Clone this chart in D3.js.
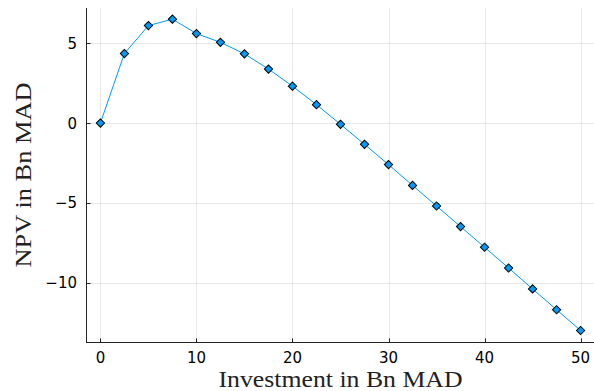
<!DOCTYPE html>
<html>
<head>
<meta charset="utf-8">
<script src="https://cdn.jsdelivr.net/npm/d3@7"></script>
<style>
  body { margin: 0; background: #fff; }
  svg { display: block; }
</style>
</head>
<body>
<svg id="chart" width="594" height="391"></svg>
<script>
// investment (Bn MAD) vs NPV (Bn MAD)
const investment = [0, 2.5, 5, 7.5, 10, 12.5, 15, 17.5, 20, 22.5, 25, 27.5, 30, 32.5, 35, 37.5, 40, 42.5, 45, 47.5, 50]
const npv = [0, 4.35, 6.1, 6.5, 5.6, 5.05, 4.33, 3.38, 2.31, 1.15, -0.08, -1.33, -2.6, -3.9, -5.19, -6.48, -7.77, -9.07, -10.38, -11.68, -12.98]
const xTicks = [0, 10, 20, 30, 40, 50]
const yTicks = [-10, -5, 0, 5]
const xLabel = "Investment in Bn MAD"
const yLabel = "NPV in Bn MAD"

const W = 594, H = 391
const plot = {left: 86, right: 595, top: 8, bottom: 342}
const blue = "#009af9"

let svg = d3.select("#chart")

let x = d3.scaleLinear()
    .domain([-1.5, 51.5])
    .range([plot.left, plot.right])
let y = d3.scaleLinear()
    .domain([-13.7, 7.2])
    .range([plot.bottom, plot.top])

let data = investment.map((d, i) => ({x: d, y: npv[i]}))

// grid
let grid = svg.append("g").attr("stroke", "#000").attr("stroke-opacity", 0.09).attr("stroke-width", 1)
grid.selectAll(".vg").data(xTicks).enter().append("line")
    .attr("x1", d => Math.round(x(d)) + 0.5).attr("x2", d => Math.round(x(d)) + 0.5)
    .attr("y1", plot.top).attr("y2", plot.bottom)
grid.selectAll(".hg").data(yTicks).enter().append("line")
    .attr("y1", d => Math.round(y(d)) + 0.5).attr("y2", d => Math.round(y(d)) + 0.5)
    .attr("x1", plot.left).attr("x2", plot.right)

// axes (ticks point inward like GR does)
let xAxis = d3.axisTop(x).tickValues(xTicks).tickSize(4).tickFormat("")
let yAxis = d3.axisRight(y).tickValues(yTicks).tickSize(4).tickFormat("")

let gx = svg.append("g")
    .attr("transform", "translate(0," + (plot.bottom + 0.5) + ")")
    .call(xAxis)
let gy = svg.append("g")
    .attr("transform", "translate(" + (plot.left + 0.5) + ",0)")
    .call(yAxis)
gx.select(".domain").remove()
gy.select(".domain").remove()
svg.selectAll(".tick line").attr("stroke", "#222").attr("stroke-width", 1)
gx.selectAll(".tick").attr("transform", d => "translate(" + (Math.round(x(d)) + 0.5) + ",0)")
gy.selectAll(".tick").attr("transform", d => "translate(0," + (Math.round(y(d)) + 0.5) + ")")

svg.append("line")
    .attr("x1", plot.left).attr("x2", plot.right)
    .attr("y1", plot.bottom + 0.5).attr("y2", plot.bottom + 0.5)
    .attr("stroke", "#222")
svg.append("line")
    .attr("x1", plot.left + 0.5).attr("x2", plot.left + 0.5)
    .attr("y1", plot.top).attr("y2", plot.bottom + 0.5)
    .attr("stroke", "#222")

// tick labels
const fmt = d3.format("d")
svg.selectAll(".xl").data(xTicks).enter().append("text")
    .attr("x", d => x(d))
    .attr("y", 363)
    .attr("text-anchor", "middle")
    .style("font-family", "DejaVu Sans")
    .style("font-size", "15px")
    .text(d => fmt(d))
svg.selectAll(".yl").data(yTicks).enter().append("text")
    .attr("x", 77)
    .attr("y", d => y(d) + 5.5)
    .attr("text-anchor", "end")
    .style("font-family", "DejaVu Sans")
    .style("font-size", "15px")
    .text(d => fmt(d))

// axis titles
svg.append("text")
    .attr("x", (plot.left + plot.right) / 2)
    .attr("y", 387)
    .attr("text-anchor", "middle")
    .attr("textLength", 244)
    .attr("lengthAdjust", "spacingAndGlyphs")
    .style("font-family", "Liberation Serif")
    .style("font-size", "22.5px")
    .style("fill", "#222")
    .text(xLabel)
svg.append("text")
    .attr("transform", "translate(31," + ((plot.top + plot.bottom) / 2) + ") rotate(-90)")
    .attr("text-anchor", "middle")
    .attr("textLength", 185)
    .attr("lengthAdjust", "spacingAndGlyphs")
    .style("font-family", "Liberation Serif")
    .style("font-size", "22.5px")
    .style("fill", "#222")
    .text(yLabel)

// series
let line = d3.line().x(d => x(d.x)).y(d => y(d.y))
svg.append("path")
    .datum(data)
    .attr("fill", "none")
    .attr("stroke", blue)
    .attr("stroke-width", 1)
    .attr("d", line)

svg.selectAll(".pt").data(data).enter().append("path")
    .attr("d", d3.symbol(d3.symbolSquare, 34)())
    .attr("transform", d => "translate(" + x(d.x) + "," + y(d.y) + ") rotate(45)")
    .attr("fill", blue)
    .attr("stroke", "#000")
    .attr("stroke-width", 1)
</script>
</body>
</html>
